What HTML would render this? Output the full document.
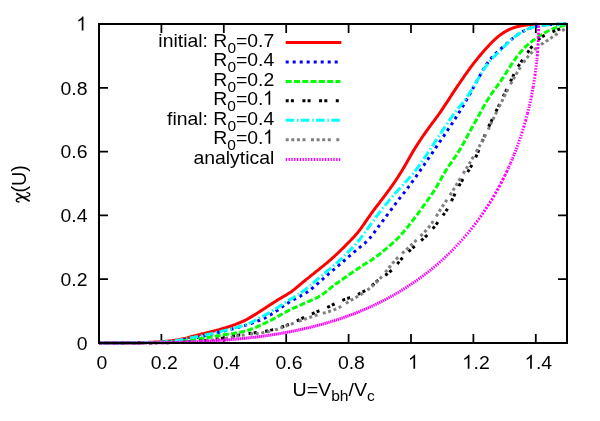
<!DOCTYPE html>
<html><head><meta charset="utf-8"><title>plot</title>
<style>
html,body{margin:0;padding:0;background:#fff;}
body{width:600px;height:421px;position:relative;overflow:hidden;}
svg{will-change:transform;}
svg text{font-family:"Liberation Sans",sans-serif;font-size:18.67px;fill:#000;}
</style></head><body>
<svg width="600" height="421" viewBox="0 0 600 421" style="position:absolute;left:0;top:0">
<rect width="600" height="421" fill="#fff"/>
<path d="M99.0,343.0 v-9 M99.0,24.0 v9 M161.4,343.0 v-9 M161.4,24.0 v9 M223.8,343.0 v-9 M223.8,24.0 v9 M286.2,343.0 v-9 M286.2,24.0 v9 M348.6,343.0 v-9 M348.6,24.0 v9 M411.0,343.0 v-9 M411.0,24.0 v9 M473.4,343.0 v-9 M473.4,24.0 v9 M535.8,343.0 v-9 M535.8,24.0 v9 M99.0,343.0 h9 M567.0,343.0 h-9 M99.0,279.2 h9 M567.0,279.2 h-9 M99.0,215.4 h9 M567.0,215.4 h-9 M99.0,151.6 h9 M567.0,151.6 h-9 M99.0,87.8 h9 M567.0,87.8 h-9 M99.0,24.0 h9 M567.0,24.0 h-9" stroke="#000" stroke-width="1.75" fill="none"/>
<path d="M99.0,343.0 L100.0,343.0 L101.0,343.0 L102.0,343.0 L103.0,343.0 L104.0,343.0 L105.0,343.0 L106.0,343.0 L107.0,343.0 L108.0,343.0 L109.0,343.0 L110.0,343.0 L111.0,343.0 L112.0,343.0 L113.0,342.9 L114.0,342.9 L115.0,342.9 L116.0,342.9 L117.0,342.9 L118.0,342.9 L119.0,342.9 L120.0,342.9 L121.0,342.9 L122.0,342.9 L123.0,342.9 L124.0,342.9 L125.0,342.8 L126.0,342.8 L127.0,342.8 L128.0,342.8 L129.0,342.8 L130.0,342.8 L131.0,342.8 L132.0,342.8 L133.0,342.7 L134.0,342.7 L135.0,342.7 L136.0,342.7 L137.0,342.7 L138.0,342.7 L139.0,342.6 L140.0,342.6 L141.0,342.6 L142.0,342.6 L143.0,342.5 L144.0,342.5 L145.0,342.5 L146.0,342.4 L147.0,342.4 L148.0,342.4 L149.0,342.3 L150.0,342.3 L151.0,342.3 L152.0,342.2 L153.0,342.2 L154.0,342.1 L155.0,342.1 L156.0,342.0 L157.0,342.0 L158.0,341.9 L159.0,341.9 L160.0,341.8 L161.0,341.7 L162.0,341.7 L163.0,341.6 L164.0,341.5 L165.0,341.4 L166.0,341.3 L167.0,341.2 L168.0,341.1 L169.0,341.0 L170.0,340.9 L171.0,340.8 L172.0,340.7 L173.0,340.5 L174.0,340.4 L175.0,340.2 L176.0,340.1 L177.0,339.9 L178.0,339.8 L179.0,339.6 L180.0,339.4 L181.0,339.2 L182.0,339.0 L183.0,338.8 L184.0,338.6 L185.0,338.4 L186.0,338.1 L187.0,337.9 L188.0,337.6 L189.0,337.3 L190.0,337.1 L191.0,336.8 L192.0,336.5 L193.0,336.3 L194.0,336.0 L195.0,335.7 L196.0,335.4 L197.0,335.2 L198.0,334.9 L199.0,334.6 L200.0,334.4 L201.0,334.1 L202.0,333.8 L203.0,333.6 L204.0,333.4 L205.0,333.1 L206.0,332.9 L207.0,332.6 L208.0,332.4 L209.0,332.2 L210.0,331.9 L211.0,331.7 L212.0,331.4 L213.0,331.2 L214.0,331.0 L215.0,330.7 L216.0,330.5 L217.0,330.2 L218.0,329.9 L219.0,329.7 L220.0,329.4 L221.0,329.1 L222.0,328.8 L223.0,328.5 L224.0,328.2 L225.0,327.9 L226.0,327.6 L227.0,327.3 L228.0,327.0 L229.0,326.7 L230.0,326.3 L231.0,326.0 L232.0,325.7 L233.0,325.3 L234.0,324.9 L235.0,324.6 L236.0,324.2 L237.0,323.8 L238.0,323.4 L239.0,323.0 L240.0,322.6 L241.0,322.2 L242.0,321.7 L243.0,321.3 L244.0,320.8 L245.0,320.3 L246.0,319.8 L247.0,319.3 L248.0,318.7 L249.0,318.2 L250.0,317.6 L251.0,317.0 L252.0,316.4 L253.0,315.8 L254.0,315.2 L255.0,314.6 L256.0,314.0 L257.0,313.3 L258.0,312.7 L259.0,312.1 L260.0,311.4 L261.0,310.8 L262.0,310.1 L263.0,309.5 L264.0,308.8 L265.0,308.2 L266.0,307.5 L267.0,306.8 L268.0,306.2 L269.0,305.5 L270.0,304.9 L271.0,304.2 L272.0,303.6 L273.0,303.0 L274.0,302.3 L275.0,301.7 L276.0,301.0 L277.0,300.4 L278.0,299.8 L279.0,299.2 L280.0,298.6 L281.0,298.0 L282.0,297.4 L283.0,296.8 L284.0,296.2 L285.0,295.6 L286.0,295.1 L287.0,294.5 L288.0,293.8 L289.0,293.2 L290.0,292.6 L291.0,291.9 L292.0,291.2 L293.0,290.4 L294.0,289.6 L295.0,288.8 L296.0,288.0 L297.0,287.2 L298.0,286.3 L299.0,285.5 L300.0,284.7 L301.0,283.8 L302.0,283.0 L303.0,282.2 L304.0,281.3 L305.0,280.5 L306.0,279.7 L307.0,278.9 L308.0,278.1 L309.0,277.3 L310.0,276.5 L311.0,275.7 L312.0,274.9 L313.0,274.1 L314.0,273.3 L315.0,272.5 L316.0,271.7 L317.0,270.9 L318.0,270.1 L319.0,269.3 L320.0,268.5 L321.0,267.7 L322.0,266.9 L323.0,266.1 L324.0,265.3 L325.0,264.4 L326.0,263.6 L327.0,262.8 L328.0,261.9 L329.0,261.1 L330.0,260.2 L331.0,259.3 L332.0,258.5 L333.0,257.6 L334.0,256.7 L335.0,255.8 L336.0,254.8 L337.0,253.9 L338.0,253.0 L339.0,252.0 L340.0,251.0 L341.0,250.0 L342.0,249.1 L343.0,248.1 L344.0,247.1 L345.0,246.1 L346.0,245.0 L347.0,244.0 L348.0,243.0 L349.0,242.0 L350.0,241.0 L351.0,240.0 L352.0,238.9 L353.0,237.9 L354.0,236.8 L355.0,235.7 L356.0,234.5 L357.0,233.4 L358.0,232.2 L359.0,230.9 L360.0,229.6 L361.0,228.3 L362.0,226.9 L363.0,225.5 L364.0,224.1 L365.0,222.6 L366.0,221.1 L367.0,219.7 L368.0,218.2 L369.0,216.8 L370.0,215.3 L371.0,213.9 L372.0,212.5 L373.0,211.2 L374.0,209.8 L375.0,208.5 L376.0,207.2 L377.0,205.9 L378.0,204.6 L379.0,203.3 L380.0,202.0 L381.0,200.7 L382.0,199.4 L383.0,198.0 L384.0,196.7 L385.0,195.4 L386.0,194.0 L387.0,192.7 L388.0,191.3 L389.0,190.0 L390.0,188.6 L391.0,187.2 L392.0,185.8 L393.0,184.3 L394.0,182.9 L395.0,181.5 L396.0,180.0 L397.0,178.5 L398.0,177.0 L399.0,175.4 L400.0,173.8 L401.0,172.2 L402.0,170.6 L403.0,168.9 L404.0,167.2 L405.0,165.5 L406.0,163.7 L407.0,162.0 L408.0,160.2 L409.0,158.4 L410.0,156.7 L411.0,154.9 L412.0,153.2 L413.0,151.5 L414.0,149.9 L415.0,148.3 L416.0,146.6 L417.0,145.1 L418.0,143.5 L419.0,142.0 L420.0,140.5 L421.0,139.0 L422.0,137.5 L423.0,136.0 L424.0,134.6 L425.0,133.2 L426.0,131.8 L427.0,130.4 L428.0,129.0 L429.0,127.6 L430.0,126.2 L431.0,124.9 L432.0,123.5 L433.0,122.2 L434.0,120.9 L435.0,119.5 L436.0,118.2 L437.0,116.8 L438.0,115.4 L439.0,114.0 L440.0,112.6 L441.0,111.2 L442.0,109.7 L443.0,108.2 L444.0,106.7 L445.0,105.2 L446.0,103.7 L447.0,102.1 L448.0,100.6 L449.0,99.1 L450.0,97.5 L451.0,96.0 L452.0,94.4 L453.0,92.9 L454.0,91.4 L455.0,89.9 L456.0,88.4 L457.0,86.9 L458.0,85.4 L459.0,84.0 L460.0,82.5 L461.0,81.0 L462.0,79.6 L463.0,78.1 L464.0,76.7 L465.0,75.2 L466.0,73.8 L467.0,72.4 L468.0,71.0 L469.0,69.6 L470.0,68.2 L471.0,66.9 L472.0,65.6 L473.0,64.2 L474.0,62.9 L475.0,61.7 L476.0,60.4 L477.0,59.2 L478.0,57.9 L479.0,56.7 L480.0,55.5 L481.0,54.3 L482.0,53.1 L483.0,52.0 L484.0,50.8 L485.0,49.7 L486.0,48.6 L487.0,47.5 L488.0,46.4 L489.0,45.3 L490.0,44.3 L491.0,43.2 L492.0,42.2 L493.0,41.2 L494.0,40.3 L495.0,39.3 L496.0,38.4 L497.0,37.6 L498.0,36.7 L499.0,35.9 L500.0,35.1 L501.0,34.4 L502.0,33.7 L503.0,33.0 L504.0,32.4 L505.0,31.8 L506.0,31.2 L507.0,30.6 L508.0,30.1 L509.0,29.6 L510.0,29.2 L511.0,28.8 L512.0,28.4 L513.0,28.0 L514.0,27.6 L515.0,27.3 L516.0,27.0 L517.0,26.8 L518.0,26.5 L519.0,26.3 L520.0,26.0 L521.0,25.9 L522.0,25.7 L523.0,25.5 L524.0,25.3 L525.0,25.2 L526.0,25.1 L527.0,24.9 L528.0,24.8 L529.0,24.7 L530.0,24.6 L531.0,24.5 L532.0,24.5 L533.0,24.4 L534.0,24.3 L535.0,24.2 L536.0,24.2 L537.0,24.1" stroke="#ff0000" stroke-width="3" fill="none" stroke-linejoin="round"/>
<path d="M99.0,343.0 L100.0,343.0 L101.0,343.0 L102.0,343.0 L103.0,343.0 L104.0,343.0 L105.0,343.0 L106.0,343.0 L107.0,343.0 L108.0,343.0 L109.0,343.0 L110.0,343.0 L111.0,343.0 L112.0,343.0 L113.0,343.0 L114.0,343.0 L115.0,342.9 L116.0,342.9 L117.0,342.9 L118.0,342.9 L119.0,342.9 L120.0,342.9 L121.0,342.9 L122.0,342.9 L123.0,342.9 L124.0,342.9 L125.0,342.9 L126.0,342.9 L127.0,342.9 L128.0,342.8 L129.0,342.8 L130.0,342.8 L131.0,342.8 L132.0,342.8 L133.0,342.8 L134.0,342.8 L135.0,342.8 L136.0,342.7 L137.0,342.7 L138.0,342.7 L139.0,342.7 L140.0,342.7 L141.0,342.7 L142.0,342.7 L143.0,342.6 L144.0,342.6 L145.0,342.6 L146.0,342.6 L147.0,342.6 L148.0,342.6 L149.0,342.5 L150.0,342.5 L151.0,342.5 L152.0,342.5 L153.0,342.5 L154.0,342.4 L155.0,342.4 L156.0,342.4 L157.0,342.4 L158.0,342.3 L159.0,342.3 L160.0,342.3 L161.0,342.3 L162.0,342.2 L163.0,342.2 L164.0,342.1 L165.0,342.1 L166.0,342.0 L167.0,341.9 L168.0,341.9 L169.0,341.8 L170.0,341.7 L171.0,341.6 L172.0,341.5 L173.0,341.4 L174.0,341.3 L175.0,341.1 L176.0,341.0 L177.0,340.9 L178.0,340.7 L179.0,340.6 L180.0,340.5 L181.0,340.3 L182.0,340.2 L183.0,340.0 L184.0,339.8 L185.0,339.7 L186.0,339.5 L187.0,339.3 L188.0,339.2 L189.0,339.0 L190.0,338.8 L191.0,338.6 L192.0,338.5 L193.0,338.3 L194.0,338.1 L195.0,337.9 L196.0,337.7 L197.0,337.5 L198.0,337.3 L199.0,337.1 L200.0,336.9 L201.0,336.7 L202.0,336.5 L203.0,336.3 L204.0,336.1 L205.0,335.9 L206.0,335.6 L207.0,335.4 L208.0,335.2 L209.0,334.9 L210.0,334.6 L211.0,334.4 L212.0,334.1 L213.0,333.9 L214.0,333.6 L215.0,333.3 L216.0,333.1 L217.0,332.8 L218.0,332.5 L219.0,332.3 L220.0,332.0 L221.0,331.7 L222.0,331.5 L223.0,331.2 L224.0,331.0 L225.0,330.7 L226.0,330.4 L227.0,330.2 L228.0,330.0 L229.0,329.7 L230.0,329.5 L231.0,329.2 L232.0,329.0 L233.0,328.7 L234.0,328.5 L235.0,328.2 L236.0,328.0 L237.0,327.7 L238.0,327.4 L239.0,327.2 L240.0,326.9 L241.0,326.6 L242.0,326.3 L243.0,326.0 L244.0,325.7 L245.0,325.4 L246.0,325.1 L247.0,324.8 L248.0,324.5 L249.0,324.2 L250.0,323.8 L251.0,323.5 L252.0,323.1 L253.0,322.8 L254.0,322.4 L255.0,322.0 L256.0,321.7 L257.0,321.3 L258.0,320.9 L259.0,320.5 L260.0,320.1 L261.0,319.6 L262.0,319.2 L263.0,318.7 L264.0,318.3 L265.0,317.8 L266.0,317.3 L267.0,316.8 L268.0,316.3 L269.0,315.7 L270.0,315.1 L271.0,314.5 L272.0,313.9 L273.0,313.3 L274.0,312.6 L275.0,312.0 L276.0,311.3 L277.0,310.6 L278.0,309.9 L279.0,309.2 L280.0,308.5 L281.0,307.8 L282.0,307.0 L283.0,306.3 L284.0,305.6 L285.0,304.9 L286.0,304.3 L287.0,303.6 L288.0,303.0 L289.0,302.3 L290.0,301.7 L291.0,301.1 L292.0,300.5 L293.0,300.0 L294.0,299.4 L295.0,298.9 L296.0,298.4 L297.0,297.8 L298.0,297.3 L299.0,296.8 L300.0,296.3 L301.0,295.7 L302.0,295.2 L303.0,294.6 L304.0,294.0 L305.0,293.4 L306.0,292.8 L307.0,292.2 L308.0,291.5 L309.0,290.8 L310.0,290.1 L311.0,289.3 L312.0,288.5 L313.0,287.7 L314.0,286.9 L315.0,286.0 L316.0,285.1 L317.0,284.2 L318.0,283.4 L319.0,282.5 L320.0,281.6 L321.0,280.7 L322.0,279.8 L323.0,278.9 L324.0,278.0 L325.0,277.1 L326.0,276.2 L327.0,275.4 L328.0,274.5 L329.0,273.6 L330.0,272.8 L331.0,271.9 L332.0,271.1 L333.0,270.2 L334.0,269.4 L335.0,268.5 L336.0,267.7 L337.0,266.8 L338.0,266.0 L339.0,265.1 L340.0,264.2 L341.0,263.4 L342.0,262.5 L343.0,261.7 L344.0,260.8 L345.0,259.9 L346.0,259.0 L347.0,258.2 L348.0,257.3 L349.0,256.4 L350.0,255.6 L351.0,254.7 L352.0,253.8 L353.0,253.0 L354.0,252.1 L355.0,251.3 L356.0,250.4 L357.0,249.6 L358.0,248.8 L359.0,248.0 L360.0,247.2 L361.0,246.4 L362.0,245.6 L363.0,244.8 L364.0,243.9 L365.0,243.0 L366.0,242.1 L367.0,241.2 L368.0,240.1 L369.0,239.0 L370.0,237.9 L371.0,236.7 L372.0,235.4 L373.0,234.1 L374.0,232.8 L375.0,231.4 L376.0,230.0 L377.0,228.7 L378.0,227.3 L379.0,225.9 L380.0,224.6 L381.0,223.3 L382.0,221.9 L383.0,220.6 L384.0,219.2 L385.0,217.9 L386.0,216.6 L387.0,215.2 L388.0,213.9 L389.0,212.5 L390.0,211.2 L391.0,209.8 L392.0,208.5 L393.0,207.1 L394.0,205.8 L395.0,204.5 L396.0,203.1 L397.0,201.8 L398.0,200.5 L399.0,199.2 L400.0,197.9 L401.0,196.6 L402.0,195.4 L403.0,194.1 L404.0,192.8 L405.0,191.5 L406.0,190.3 L407.0,189.0 L408.0,187.6 L409.0,186.3 L410.0,185.0 L411.0,183.6 L412.0,182.2 L413.0,180.8 L414.0,179.4 L415.0,178.0 L416.0,176.6 L417.0,175.1 L418.0,173.7 L419.0,172.2 L420.0,170.8 L421.0,169.3 L422.0,167.9 L423.0,166.4 L424.0,165.0 L425.0,163.5 L426.0,162.1 L427.0,160.6 L428.0,159.1 L429.0,157.7 L430.0,156.2 L431.0,154.7 L432.0,153.3 L433.0,151.8 L434.0,150.3 L435.0,148.9 L436.0,147.4 L437.0,145.9 L438.0,144.4 L439.0,143.0 L440.0,141.5 L441.0,140.0 L442.0,138.5 L443.0,137.0 L444.0,135.6 L445.0,134.1 L446.0,132.6 L447.0,131.1 L448.0,129.6 L449.0,128.1 L450.0,126.6 L451.0,125.1 L452.0,123.6 L453.0,122.1 L454.0,120.5 L455.0,119.0 L456.0,117.4 L457.0,115.8 L458.0,114.2 L459.0,112.6 L460.0,111.0 L461.0,109.3 L462.0,107.6 L463.0,106.0 L464.0,104.2 L465.0,102.5 L466.0,100.8 L467.0,99.0 L468.0,97.2 L469.0,95.5 L470.0,93.7 L471.0,91.8 L472.0,90.0 L473.0,88.2 L474.0,86.4 L475.0,84.5 L476.0,82.7 L477.0,80.8 L478.0,79.0 L479.0,77.2 L480.0,75.4 L481.0,73.6 L482.0,71.8 L483.0,70.1 L484.0,68.4 L485.0,66.8 L486.0,65.2 L487.0,63.7 L488.0,62.3 L489.0,60.9 L490.0,59.6 L491.0,58.4 L492.0,57.3 L493.0,56.2 L494.0,55.2 L495.0,54.2 L496.0,53.2 L497.0,52.3 L498.0,51.4 L499.0,50.5 L500.0,49.6 L501.0,48.7 L502.0,47.8 L503.0,46.9 L504.0,46.0 L505.0,45.1 L506.0,44.2 L507.0,43.3 L508.0,42.5 L509.0,41.6 L510.0,40.7 L511.0,39.8 L512.0,39.0 L513.0,38.2 L514.0,37.4 L515.0,36.6 L516.0,35.9 L517.0,35.1 L518.0,34.4 L519.0,33.8 L520.0,33.1 L521.0,32.5 L522.0,31.9 L523.0,31.3 L524.0,30.8 L525.0,30.3 L526.0,29.8 L527.0,29.3 L528.0,28.9 L529.0,28.5 L530.0,28.1 L531.0,27.8 L532.0,27.4 L533.0,27.1 L534.0,26.9 L535.0,26.6 L536.0,26.4 L537.0,26.2 L538.0,26.0 L539.0,25.8 L540.0,25.6 L541.0,25.5 L542.0,25.4 L543.0,25.2 L544.0,25.1 L545.0,25.0 L546.0,24.9 L547.0,24.8 L548.0,24.7 L549.0,24.7 L550.0,24.6 L551.0,24.5 L552.0,24.5 L553.0,24.4 L554.0,24.3 L555.0,24.3 L556.0,24.3 L557.0,24.2 L558.0,24.2 L559.0,24.1 L560.0,24.1 L561.0,24.1 L562.0,24.1 L563.0,24.1 L564.0,24.0 L565.0,24.0 L566.0,24.0 L567.0,24.0" stroke="#0000ff" stroke-width="3" fill="none" stroke-dasharray="3 4" stroke-linejoin="round"/>
<path d="M99.0,343.0 L100.0,343.0 L101.0,343.0 L102.0,343.0 L103.0,343.0 L104.0,343.0 L105.0,343.0 L106.0,343.0 L107.0,343.0 L108.0,343.0 L109.0,343.0 L110.0,343.0 L111.0,343.0 L112.0,343.0 L113.0,343.0 L114.0,343.0 L115.0,343.0 L116.0,343.0 L117.0,343.0 L118.0,342.9 L119.0,342.9 L120.0,342.9 L121.0,342.9 L122.0,342.9 L123.0,342.9 L124.0,342.9 L125.0,342.9 L126.0,342.9 L127.0,342.9 L128.0,342.9 L129.0,342.9 L130.0,342.9 L131.0,342.9 L132.0,342.9 L133.0,342.8 L134.0,342.8 L135.0,342.8 L136.0,342.8 L137.0,342.8 L138.0,342.8 L139.0,342.8 L140.0,342.8 L141.0,342.8 L142.0,342.8 L143.0,342.7 L144.0,342.7 L145.0,342.7 L146.0,342.7 L147.0,342.7 L148.0,342.7 L149.0,342.7 L150.0,342.7 L151.0,342.6 L152.0,342.6 L153.0,342.6 L154.0,342.6 L155.0,342.6 L156.0,342.6 L157.0,342.6 L158.0,342.5 L159.0,342.5 L160.0,342.5 L161.0,342.5 L162.0,342.4 L163.0,342.4 L164.0,342.4 L165.0,342.3 L166.0,342.3 L167.0,342.2 L168.0,342.2 L169.0,342.1 L170.0,342.1 L171.0,342.0 L172.0,341.9 L173.0,341.8 L174.0,341.7 L175.0,341.7 L176.0,341.6 L177.0,341.5 L178.0,341.4 L179.0,341.3 L180.0,341.2 L181.0,341.0 L182.0,340.9 L183.0,340.8 L184.0,340.7 L185.0,340.6 L186.0,340.5 L187.0,340.3 L188.0,340.2 L189.0,340.1 L190.0,340.0 L191.0,339.8 L192.0,339.7 L193.0,339.6 L194.0,339.5 L195.0,339.3 L196.0,339.2 L197.0,339.1 L198.0,338.9 L199.0,338.8 L200.0,338.7 L201.0,338.5 L202.0,338.4 L203.0,338.3 L204.0,338.1 L205.0,338.0 L206.0,337.8 L207.0,337.6 L208.0,337.5 L209.0,337.3 L210.0,337.2 L211.0,337.0 L212.0,336.8 L213.0,336.6 L214.0,336.5 L215.0,336.3 L216.0,336.1 L217.0,336.0 L218.0,335.8 L219.0,335.6 L220.0,335.4 L221.0,335.3 L222.0,335.1 L223.0,335.0 L224.0,334.8 L225.0,334.6 L226.0,334.5 L227.0,334.3 L228.0,334.2 L229.0,334.0 L230.0,333.9 L231.0,333.7 L232.0,333.6 L233.0,333.4 L234.0,333.3 L235.0,333.1 L236.0,333.0 L237.0,332.8 L238.0,332.6 L239.0,332.4 L240.0,332.2 L241.0,332.0 L242.0,331.8 L243.0,331.6 L244.0,331.4 L245.0,331.1 L246.0,330.9 L247.0,330.6 L248.0,330.3 L249.0,330.0 L250.0,329.6 L251.0,329.3 L252.0,328.9 L253.0,328.5 L254.0,328.1 L255.0,327.7 L256.0,327.3 L257.0,326.9 L258.0,326.4 L259.0,326.0 L260.0,325.5 L261.0,325.1 L262.0,324.6 L263.0,324.1 L264.0,323.6 L265.0,323.2 L266.0,322.7 L267.0,322.2 L268.0,321.7 L269.0,321.2 L270.0,320.7 L271.0,320.2 L272.0,319.6 L273.0,319.1 L274.0,318.6 L275.0,318.0 L276.0,317.5 L277.0,316.9 L278.0,316.3 L279.0,315.8 L280.0,315.2 L281.0,314.7 L282.0,314.1 L283.0,313.5 L284.0,313.0 L285.0,312.5 L286.0,311.9 L287.0,311.4 L288.0,310.9 L289.0,310.4 L290.0,309.9 L291.0,309.4 L292.0,308.9 L293.0,308.4 L294.0,307.9 L295.0,307.5 L296.0,307.0 L297.0,306.6 L298.0,306.1 L299.0,305.7 L300.0,305.2 L301.0,304.8 L302.0,304.3 L303.0,303.9 L304.0,303.5 L305.0,303.0 L306.0,302.6 L307.0,302.2 L308.0,301.7 L309.0,301.3 L310.0,300.8 L311.0,300.4 L312.0,300.0 L313.0,299.5 L314.0,299.1 L315.0,298.6 L316.0,298.1 L317.0,297.6 L318.0,297.1 L319.0,296.5 L320.0,295.9 L321.0,295.3 L322.0,294.7 L323.0,294.0 L324.0,293.3 L325.0,292.5 L326.0,291.7 L327.0,290.9 L328.0,290.1 L329.0,289.3 L330.0,288.4 L331.0,287.6 L332.0,286.8 L333.0,286.0 L334.0,285.3 L335.0,284.5 L336.0,283.8 L337.0,283.1 L338.0,282.5 L339.0,281.8 L340.0,281.1 L341.0,280.4 L342.0,279.7 L343.0,279.0 L344.0,278.3 L345.0,277.6 L346.0,276.9 L347.0,276.2 L348.0,275.5 L349.0,274.8 L350.0,274.1 L351.0,273.4 L352.0,272.7 L353.0,272.0 L354.0,271.4 L355.0,270.7 L356.0,270.0 L357.0,269.3 L358.0,268.6 L359.0,267.9 L360.0,267.2 L361.0,266.6 L362.0,265.9 L363.0,265.3 L364.0,264.6 L365.0,264.0 L366.0,263.4 L367.0,262.8 L368.0,262.2 L369.0,261.6 L370.0,261.0 L371.0,260.3 L372.0,259.7 L373.0,259.0 L374.0,258.3 L375.0,257.6 L376.0,256.9 L377.0,256.1 L378.0,255.4 L379.0,254.6 L380.0,253.8 L381.0,253.0 L382.0,252.2 L383.0,251.4 L384.0,250.5 L385.0,249.7 L386.0,248.9 L387.0,248.0 L388.0,247.2 L389.0,246.3 L390.0,245.5 L391.0,244.6 L392.0,243.7 L393.0,242.8 L394.0,241.9 L395.0,241.0 L396.0,240.0 L397.0,239.0 L398.0,238.0 L399.0,237.0 L400.0,235.9 L401.0,234.8 L402.0,233.7 L403.0,232.6 L404.0,231.4 L405.0,230.2 L406.0,229.0 L407.0,227.8 L408.0,226.6 L409.0,225.3 L410.0,224.0 L411.0,222.7 L412.0,221.4 L413.0,220.1 L414.0,218.8 L415.0,217.5 L416.0,216.2 L417.0,214.8 L418.0,213.5 L419.0,212.1 L420.0,210.8 L421.0,209.4 L422.0,208.0 L423.0,206.6 L424.0,205.2 L425.0,203.8 L426.0,202.4 L427.0,201.1 L428.0,199.7 L429.0,198.3 L430.0,196.9 L431.0,195.4 L432.0,194.0 L433.0,192.5 L434.0,190.9 L435.0,189.3 L436.0,187.7 L437.0,186.0 L438.0,184.3 L439.0,182.6 L440.0,180.8 L441.0,179.0 L442.0,177.2 L443.0,175.4 L444.0,173.7 L445.0,172.0 L446.0,170.4 L447.0,168.8 L448.0,167.2 L449.0,165.7 L450.0,164.3 L451.0,162.8 L452.0,161.4 L453.0,160.0 L454.0,158.6 L455.0,157.1 L456.0,155.7 L457.0,154.2 L458.0,152.6 L459.0,151.0 L460.0,149.4 L461.0,147.7 L462.0,145.9 L463.0,144.2 L464.0,142.4 L465.0,140.5 L466.0,138.7 L467.0,136.8 L468.0,135.0 L469.0,133.1 L470.0,131.2 L471.0,129.4 L472.0,127.6 L473.0,125.8 L474.0,124.0 L475.0,122.2 L476.0,120.4 L477.0,118.6 L478.0,116.8 L479.0,115.0 L480.0,113.2 L481.0,111.4 L482.0,109.6 L483.0,107.8 L484.0,106.0 L485.0,104.3 L486.0,102.5 L487.0,100.8 L488.0,99.2 L489.0,97.6 L490.0,96.0 L491.0,94.5 L492.0,93.1 L493.0,91.7 L494.0,90.3 L495.0,89.0 L496.0,87.6 L497.0,86.3 L498.0,84.9 L499.0,83.5 L500.0,82.1 L501.0,80.7 L502.0,79.2 L503.0,77.7 L504.0,76.2 L505.0,74.6 L506.0,73.1 L507.0,71.5 L508.0,69.9 L509.0,68.3 L510.0,66.8 L511.0,65.2 L512.0,63.7 L513.0,62.2 L514.0,60.8 L515.0,59.4 L516.0,58.0 L517.0,56.6 L518.0,55.3 L519.0,54.0 L520.0,52.7 L521.0,51.5 L522.0,50.4 L523.0,49.3 L524.0,48.2 L525.0,47.2 L526.0,46.3 L527.0,45.4 L528.0,44.5 L529.0,43.7 L530.0,42.9 L531.0,42.1 L532.0,41.3 L533.0,40.6 L534.0,39.9 L535.0,39.2 L536.0,38.4 L537.0,37.7 L538.0,37.0 L539.0,36.4 L540.0,35.7 L541.0,35.0 L542.0,34.4 L543.0,33.8 L544.0,33.2 L545.0,32.6 L546.0,32.0 L547.0,31.5 L548.0,31.0 L549.0,30.5 L550.0,30.0 L551.0,29.6 L552.0,29.1 L553.0,28.7 L554.0,28.4 L555.0,28.0 L556.0,27.7 L557.0,27.4 L558.0,27.1 L559.0,26.8 L560.0,26.6 L561.0,26.3 L562.0,26.1 L563.0,25.9 L564.0,25.6 L565.0,25.4 L566.0,25.2 L567.0,25.0" stroke="#00ff00" stroke-width="3" fill="none" stroke-dasharray="6 2.3" stroke-linejoin="round"/>
<path d="M99.0,343.0 L100.0,343.0 L101.0,343.0 L102.0,343.0 L103.0,343.0 L104.0,343.0 L105.0,343.0 L106.0,343.0 L107.0,343.0 L108.0,343.0 L109.0,343.0 L110.0,343.0 L111.0,343.0 L112.0,343.0 L113.0,343.0 L114.0,343.0 L115.0,343.0 L116.0,343.0 L117.0,343.0 L118.0,343.0 L119.0,343.0 L120.0,343.0 L121.0,343.0 L122.0,343.0 L123.0,343.0 L124.0,343.0 L125.0,343.0 L126.0,343.0 L127.0,343.0 L128.0,343.0 L129.0,343.0 L130.0,342.9 L131.0,342.9 L132.0,342.9 L133.0,342.9 L134.0,342.9 L135.0,342.9 L136.0,342.9 L137.0,342.9 L138.0,342.9 L139.0,342.9 L140.0,342.9 L141.0,342.9 L142.0,342.9 L143.0,342.9 L144.0,342.9 L145.0,342.9 L146.0,342.9 L147.0,342.9 L148.0,342.9 L149.0,342.9 L150.0,342.9 L151.0,342.9 L152.0,342.9 L153.0,342.8 L154.0,342.8 L155.0,342.8 L156.0,342.8 L157.0,342.8 L158.0,342.8 L159.0,342.8 L160.0,342.8 L161.0,342.8 L162.0,342.8 L163.0,342.8 L164.0,342.7 L165.0,342.7 L166.0,342.7 L167.0,342.7 L168.0,342.7 L169.0,342.6 L170.0,342.6 L171.0,342.6 L172.0,342.5 L173.0,342.5 L174.0,342.5 L175.0,342.4 L176.0,342.4 L177.0,342.4 L178.0,342.3 L179.0,342.3 L180.0,342.2 L181.0,342.2 L182.0,342.1 L183.0,342.1 L184.0,342.0 L185.0,342.0 L186.0,341.9 L187.0,341.8 L188.0,341.8 L189.0,341.7 L190.0,341.7 L191.0,341.6 L192.0,341.5 L193.0,341.5 L194.0,341.4 L195.0,341.3 L196.0,341.3 L197.0,341.2 L198.0,341.1 L199.0,341.0 L200.0,341.0 L201.0,340.9 L202.0,340.8 L203.0,340.7 L204.0,340.6 L205.0,340.5 L206.0,340.4 L207.0,340.3 L208.0,340.2 L209.0,340.1 L210.0,340.0 L211.0,339.9 L212.0,339.7 L213.0,339.6 L214.0,339.5 L215.0,339.3 L216.0,339.2 L217.0,339.1 L218.0,338.9 L219.0,338.8 L220.0,338.6 L221.0,338.5 L222.0,338.3 L223.0,338.2 L224.0,338.0 L225.0,337.8 L226.0,337.7 L227.0,337.5 L228.0,337.3 L229.0,337.1 L230.0,336.9 L231.0,336.7 L232.0,336.5 L233.0,336.3 L234.0,336.1 L235.0,335.9 L236.0,335.7 L237.0,335.5 L238.0,335.3 L239.0,335.1 L240.0,334.9 L241.0,334.8 L242.0,334.6 L243.0,334.4 L244.0,334.2 L245.0,334.1 L246.0,333.9 L247.0,333.8 L248.0,333.6 L249.0,333.5 L250.0,333.4 L251.0,333.2 L252.0,333.1 L253.0,333.0 L254.0,332.8 L255.0,332.7 L256.0,332.6 L257.0,332.5 L258.0,332.4 L259.0,332.2 L260.0,332.1 L261.0,332.0 L262.0,331.8 L263.0,331.7 L264.0,331.5 L265.0,331.3 L266.0,331.2 L267.0,331.0 L268.0,330.8 L269.0,330.6 L270.0,330.4 L271.0,330.1 L272.0,329.9 L273.0,329.6 L274.0,329.4 L275.0,329.1 L276.0,328.8 L277.0,328.5 L278.0,328.2 L279.0,327.9 L280.0,327.6 L281.0,327.2 L282.0,326.9 L283.0,326.5 L284.0,326.2 L285.0,325.8 L286.0,325.4 L287.0,325.1 L288.0,324.7 L289.0,324.3 L290.0,323.9 L291.0,323.5 L292.0,323.0 L293.0,322.6 L294.0,322.2 L295.0,321.7 L296.0,321.2 L297.0,320.8 L298.0,320.3 L299.0,319.8 L300.0,319.4 L301.0,318.9 L302.0,318.4 L303.0,317.9 L304.0,317.5 L305.0,317.0 L306.0,316.5 L307.0,316.1 L308.0,315.6 L309.0,315.1 L310.0,314.7 L311.0,314.2 L312.0,313.8 L313.0,313.4 L314.0,313.0 L315.0,312.5 L316.0,312.1 L317.0,311.7 L318.0,311.3 L319.0,310.9 L320.0,310.5 L321.0,310.1 L322.0,309.7 L323.0,309.3 L324.0,308.9 L325.0,308.5 L326.0,308.0 L327.0,307.6 L328.0,307.1 L329.0,306.7 L330.0,306.2 L331.0,305.7 L332.0,305.2 L333.0,304.7 L334.0,304.2 L335.0,303.7 L336.0,303.2 L337.0,302.8 L338.0,302.3 L339.0,301.8 L340.0,301.4 L341.0,300.9 L342.0,300.5 L343.0,300.1 L344.0,299.7 L345.0,299.3 L346.0,299.0 L347.0,298.6 L348.0,298.2 L349.0,297.9 L350.0,297.5 L351.0,297.2 L352.0,296.8 L353.0,296.4 L354.0,296.0 L355.0,295.6 L356.0,295.2 L357.0,294.8 L358.0,294.3 L359.0,293.9 L360.0,293.4 L361.0,292.9 L362.0,292.4 L363.0,291.8 L364.0,291.2 L365.0,290.6 L366.0,290.0 L367.0,289.3 L368.0,288.6 L369.0,287.9 L370.0,287.1 L371.0,286.3 L372.0,285.5 L373.0,284.6 L374.0,283.8 L375.0,282.9 L376.0,282.1 L377.0,281.2 L378.0,280.4 L379.0,279.6 L380.0,278.9 L381.0,278.1 L382.0,277.4 L383.0,276.8 L384.0,276.1 L385.0,275.5 L386.0,274.8 L387.0,274.1 L388.0,273.4 L389.0,272.6 L390.0,271.7 L391.0,270.8 L392.0,269.9 L393.0,268.9 L394.0,267.8 L395.0,266.7 L396.0,265.5 L397.0,264.3 L398.0,263.1 L399.0,261.9 L400.0,260.7 L401.0,259.5 L402.0,258.3 L403.0,257.2 L404.0,256.1 L405.0,255.0 L406.0,254.0 L407.0,253.0 L408.0,252.1 L409.0,251.2 L410.0,250.3 L411.0,249.4 L412.0,248.5 L413.0,247.7 L414.0,246.8 L415.0,246.0 L416.0,245.1 L417.0,244.3 L418.0,243.4 L419.0,242.6 L420.0,241.7 L421.0,240.8 L422.0,239.9 L423.0,239.0 L424.0,238.1 L425.0,237.1 L426.0,236.2 L427.0,235.2 L428.0,234.1 L429.0,233.0 L430.0,231.9 L431.0,230.8 L432.0,229.6 L433.0,228.4 L434.0,227.2 L435.0,225.9 L436.0,224.7 L437.0,223.4 L438.0,222.0 L439.0,220.7 L440.0,219.4 L441.0,218.1 L442.0,216.7 L443.0,215.4 L444.0,214.0 L445.0,212.6 L446.0,211.1 L447.0,209.5 L448.0,207.8 L449.0,205.9 L450.0,204.0 L451.0,202.1 L452.0,200.0 L453.0,197.9 L454.0,195.8 L455.0,193.7 L456.0,191.6 L457.0,189.6 L458.0,187.7 L459.0,185.8 L460.0,184.0 L461.0,182.3 L462.0,180.6 L463.0,179.0 L464.0,177.5 L465.0,176.0 L466.0,174.5 L467.0,173.0 L468.0,171.5 L469.0,169.9 L470.0,168.3 L471.0,166.6 L472.0,164.9 L473.0,163.0 L474.0,161.0 L475.0,158.9 L476.0,156.7 L477.0,154.4 L478.0,151.9 L479.0,149.5 L480.0,147.0 L481.0,144.5 L482.0,142.0 L483.0,139.6 L484.0,137.2 L485.0,134.8 L486.0,132.6 L487.0,130.3 L488.0,128.1 L489.0,126.0 L490.0,123.9 L491.0,121.8 L492.0,119.7 L493.0,117.6 L494.0,115.5 L495.0,113.5 L496.0,111.4 L497.0,109.4 L498.0,107.3 L499.0,105.3 L500.0,103.2 L501.0,101.1 L502.0,99.1 L503.0,97.0 L504.0,95.0 L505.0,92.9 L506.0,90.9 L507.0,88.8 L508.0,86.7 L509.0,84.6 L510.0,82.5 L511.0,80.4 L512.0,78.3 L513.0,76.3 L514.0,74.2 L515.0,72.3 L516.0,70.4 L517.0,68.6 L518.0,66.8 L519.0,65.2 L520.0,63.6 L521.0,62.1 L522.0,60.6 L523.0,59.2 L524.0,57.8 L525.0,56.3 L526.0,54.9 L527.0,53.5 L528.0,52.1 L529.0,50.6 L530.0,49.2 L531.0,47.8 L532.0,46.5 L533.0,45.2 L534.0,44.0 L535.0,42.9 L536.0,41.8 L537.0,40.8 L538.0,39.9 L539.0,39.0 L540.0,38.2 L541.0,37.5 L542.0,36.8 L543.0,36.2 L544.0,35.6 L545.0,35.1 L546.0,34.6 L547.0,34.1 L548.0,33.7 L549.0,33.2 L550.0,32.8 L551.0,32.4 L552.0,32.0 L553.0,31.6 L554.0,31.2 L555.0,30.8 L556.0,30.4 L557.0,30.0 L558.0,29.7 L559.0,29.3 L560.0,29.0 L561.0,28.6 L562.0,28.2 L563.0,27.9 L564.0,27.5 L565.0,27.2 L566.0,26.9 L567.0,26.5" stroke="#000000" stroke-width="3" fill="none" stroke-dasharray="3 2.2 3 8.5" stroke-linejoin="round"/>
<path d="M99.0,343.0 L100.0,343.0 L101.0,343.0 L102.0,343.0 L103.0,343.0 L104.0,343.0 L105.0,343.0 L106.0,343.0 L107.0,343.0 L108.0,343.0 L109.0,343.0 L110.0,343.0 L111.0,343.0 L112.0,343.0 L113.0,343.0 L114.0,342.9 L115.0,342.9 L116.0,342.9 L117.0,342.9 L118.0,342.9 L119.0,342.9 L120.0,342.9 L121.0,342.9 L122.0,342.9 L123.0,342.9 L124.0,342.9 L125.0,342.9 L126.0,342.8 L127.0,342.8 L128.0,342.8 L129.0,342.8 L130.0,342.8 L131.0,342.8 L132.0,342.8 L133.0,342.8 L134.0,342.7 L135.0,342.7 L136.0,342.7 L137.0,342.7 L138.0,342.7 L139.0,342.7 L140.0,342.6 L141.0,342.6 L142.0,342.6 L143.0,342.6 L144.0,342.6 L145.0,342.6 L146.0,342.5 L147.0,342.5 L148.0,342.5 L149.0,342.5 L150.0,342.5 L151.0,342.4 L152.0,342.4 L153.0,342.4 L154.0,342.4 L155.0,342.3 L156.0,342.3 L157.0,342.3 L158.0,342.3 L159.0,342.2 L160.0,342.2 L161.0,342.1 L162.0,342.1 L163.0,342.0 L164.0,342.0 L165.0,341.9 L166.0,341.8 L167.0,341.7 L168.0,341.7 L169.0,341.6 L170.0,341.4 L171.0,341.3 L172.0,341.2 L173.0,341.1 L174.0,340.9 L175.0,340.8 L176.0,340.6 L177.0,340.5 L178.0,340.3 L179.0,340.1 L180.0,339.9 L181.0,339.8 L182.0,339.6 L183.0,339.4 L184.0,339.2 L185.0,339.0 L186.0,338.8 L187.0,338.6 L188.0,338.4 L189.0,338.2 L190.0,338.0 L191.0,337.8 L192.0,337.6 L193.0,337.4 L194.0,337.2 L195.0,337.0 L196.0,336.8 L197.0,336.6 L198.0,336.4 L199.0,336.2 L200.0,336.0 L201.0,335.8 L202.0,335.6 L203.0,335.4 L204.0,335.2 L205.0,335.0 L206.0,334.8 L207.0,334.6 L208.0,334.3 L209.0,334.1 L210.0,333.9 L211.0,333.7 L212.0,333.5 L213.0,333.2 L214.0,333.0 L215.0,332.8 L216.0,332.5 L217.0,332.3 L218.0,332.1 L219.0,331.8 L220.0,331.6 L221.0,331.4 L222.0,331.1 L223.0,330.9 L224.0,330.6 L225.0,330.4 L226.0,330.2 L227.0,329.9 L228.0,329.7 L229.0,329.4 L230.0,329.2 L231.0,328.9 L232.0,328.7 L233.0,328.4 L234.0,328.2 L235.0,327.9 L236.0,327.7 L237.0,327.4 L238.0,327.1 L239.0,326.8 L240.0,326.5 L241.0,326.2 L242.0,325.9 L243.0,325.5 L244.0,325.2 L245.0,324.8 L246.0,324.5 L247.0,324.1 L248.0,323.7 L249.0,323.3 L250.0,322.9 L251.0,322.4 L252.0,322.0 L253.0,321.5 L254.0,321.0 L255.0,320.5 L256.0,320.0 L257.0,319.5 L258.0,319.0 L259.0,318.4 L260.0,317.9 L261.0,317.4 L262.0,316.8 L263.0,316.2 L264.0,315.7 L265.0,315.1 L266.0,314.6 L267.0,314.0 L268.0,313.4 L269.0,312.8 L270.0,312.2 L271.0,311.6 L272.0,311.0 L273.0,310.4 L274.0,309.8 L275.0,309.2 L276.0,308.5 L277.0,307.9 L278.0,307.2 L279.0,306.6 L280.0,305.9 L281.0,305.3 L282.0,304.7 L283.0,304.0 L284.0,303.4 L285.0,302.7 L286.0,302.1 L287.0,301.5 L288.0,300.8 L289.0,300.2 L290.0,299.6 L291.0,299.0 L292.0,298.4 L293.0,297.8 L294.0,297.2 L295.0,296.6 L296.0,296.0 L297.0,295.4 L298.0,294.7 L299.0,294.1 L300.0,293.4 L301.0,292.8 L302.0,292.1 L303.0,291.3 L304.0,290.6 L305.0,289.8 L306.0,289.1 L307.0,288.2 L308.0,287.4 L309.0,286.6 L310.0,285.7 L311.0,284.9 L312.0,284.0 L313.0,283.2 L314.0,282.3 L315.0,281.4 L316.0,280.5 L317.0,279.7 L318.0,278.8 L319.0,277.9 L320.0,277.1 L321.0,276.2 L322.0,275.4 L323.0,274.5 L324.0,273.7 L325.0,272.9 L326.0,272.0 L327.0,271.2 L328.0,270.4 L329.0,269.6 L330.0,268.8 L331.0,268.0 L332.0,267.1 L333.0,266.3 L334.0,265.5 L335.0,264.6 L336.0,263.7 L337.0,262.8 L338.0,261.9 L339.0,261.0 L340.0,260.0 L341.0,259.0 L342.0,258.1 L343.0,257.1 L344.0,256.1 L345.0,255.1 L346.0,254.1 L347.0,253.1 L348.0,252.1 L349.0,251.1 L350.0,250.1 L351.0,249.1 L352.0,248.1 L353.0,247.1 L354.0,246.0 L355.0,245.0 L356.0,243.9 L357.0,242.7 L358.0,241.5 L359.0,240.3 L360.0,239.1 L361.0,237.8 L362.0,236.4 L363.0,235.1 L364.0,233.7 L365.0,232.3 L366.0,230.9 L367.0,229.5 L368.0,228.1 L369.0,226.7 L370.0,225.3 L371.0,223.9 L372.0,222.5 L373.0,221.1 L374.0,219.8 L375.0,218.4 L376.0,217.0 L377.0,215.7 L378.0,214.4 L379.0,213.1 L380.0,211.8 L381.0,210.5 L382.0,209.2 L383.0,207.9 L384.0,206.6 L385.0,205.4 L386.0,204.2 L387.0,203.0 L388.0,201.8 L389.0,200.6 L390.0,199.4 L391.0,198.2 L392.0,197.1 L393.0,195.9 L394.0,194.8 L395.0,193.6 L396.0,192.5 L397.0,191.4 L398.0,190.3 L399.0,189.2 L400.0,188.1 L401.0,187.0 L402.0,185.9 L403.0,184.8 L404.0,183.7 L405.0,182.6 L406.0,181.5 L407.0,180.4 L408.0,179.3 L409.0,178.2 L410.0,177.1 L411.0,176.0 L412.0,174.8 L413.0,173.6 L414.0,172.4 L415.0,171.2 L416.0,169.9 L417.0,168.6 L418.0,167.2 L419.0,165.9 L420.0,164.5 L421.0,163.1 L422.0,161.6 L423.0,160.2 L424.0,158.7 L425.0,157.2 L426.0,155.7 L427.0,154.2 L428.0,152.7 L429.0,151.2 L430.0,149.6 L431.0,148.1 L432.0,146.6 L433.0,145.1 L434.0,143.5 L435.0,142.0 L436.0,140.5 L437.0,139.0 L438.0,137.4 L439.0,135.9 L440.0,134.4 L441.0,132.9 L442.0,131.3 L443.0,129.8 L444.0,128.3 L445.0,126.8 L446.0,125.3 L447.0,123.8 L448.0,122.3 L449.0,120.9 L450.0,119.4 L451.0,118.0 L452.0,116.6 L453.0,115.2 L454.0,113.8 L455.0,112.5 L456.0,111.2 L457.0,109.9 L458.0,108.7 L459.0,107.4 L460.0,106.2 L461.0,104.9 L462.0,103.7 L463.0,102.4 L464.0,101.1 L465.0,99.8 L466.0,98.4 L467.0,97.0 L468.0,95.5 L469.0,94.0 L470.0,92.4 L471.0,90.8 L472.0,89.1 L473.0,87.4 L474.0,85.7 L475.0,84.0 L476.0,82.3 L477.0,80.6 L478.0,78.9 L479.0,77.2 L480.0,75.5 L481.0,73.9 L482.0,72.2 L483.0,70.7 L484.0,69.1 L485.0,67.7 L486.0,66.2 L487.0,64.9 L488.0,63.6 L489.0,62.3 L490.0,61.1 L491.0,59.9 L492.0,58.8 L493.0,57.7 L494.0,56.7 L495.0,55.7 L496.0,54.7 L497.0,53.7 L498.0,52.7 L499.0,51.7 L500.0,50.7 L501.0,49.8 L502.0,48.8 L503.0,47.8 L504.0,46.8 L505.0,45.8 L506.0,44.8 L507.0,43.8 L508.0,42.8 L509.0,41.8 L510.0,40.9 L511.0,40.0 L512.0,39.1 L513.0,38.2 L514.0,37.4 L515.0,36.6 L516.0,35.9 L517.0,35.1 L518.0,34.4 L519.0,33.7 L520.0,33.1 L521.0,32.5 L522.0,31.9 L523.0,31.3 L524.0,30.8 L525.0,30.3 L526.0,29.8 L527.0,29.3 L528.0,28.9 L529.0,28.5 L530.0,28.1 L531.0,27.8 L532.0,27.4 L533.0,27.1 L534.0,26.9 L535.0,26.6 L536.0,26.4 L537.0,26.2 L538.0,26.0 L539.0,25.8 L540.0,25.6 L541.0,25.5 L542.0,25.4 L543.0,25.2 L544.0,25.1 L545.0,25.0 L546.0,24.9 L547.0,24.8 L548.0,24.7 L549.0,24.7 L550.0,24.6 L551.0,24.5 L552.0,24.5 L553.0,24.4 L554.0,24.3 L555.0,24.3 L556.0,24.3 L557.0,24.2 L558.0,24.2 L559.0,24.1 L560.0,24.1 L561.0,24.1 L562.0,24.1 L563.0,24.1 L564.0,24.0 L565.0,24.0 L566.0,24.0 L567.0,24.0" stroke="#00ffff" stroke-width="3" fill="none" stroke-dasharray="8.5 2.8 1.5 2.4" stroke-linejoin="round"/>
<path d="M99.0,343.0 L100.0,343.0 L101.0,343.0 L102.0,343.0 L103.0,343.0 L104.0,343.0 L105.0,343.0 L106.0,343.0 L107.0,343.0 L108.0,343.0 L109.0,343.0 L110.0,343.0 L111.0,343.0 L112.0,343.0 L113.0,343.0 L114.0,343.0 L115.0,343.0 L116.0,343.0 L117.0,343.0 L118.0,343.0 L119.0,343.0 L120.0,343.0 L121.0,343.0 L122.0,343.0 L123.0,343.0 L124.0,343.0 L125.0,343.0 L126.0,343.0 L127.0,343.0 L128.0,343.0 L129.0,343.0 L130.0,342.9 L131.0,342.9 L132.0,342.9 L133.0,342.9 L134.0,342.9 L135.0,342.9 L136.0,342.9 L137.0,342.9 L138.0,342.9 L139.0,342.9 L140.0,342.9 L141.0,342.9 L142.0,342.9 L143.0,342.9 L144.0,342.9 L145.0,342.9 L146.0,342.9 L147.0,342.9 L148.0,342.9 L149.0,342.9 L150.0,342.9 L151.0,342.9 L152.0,342.9 L153.0,342.8 L154.0,342.8 L155.0,342.8 L156.0,342.8 L157.0,342.8 L158.0,342.8 L159.0,342.8 L160.0,342.8 L161.0,342.8 L162.0,342.8 L163.0,342.8 L164.0,342.8 L165.0,342.7 L166.0,342.7 L167.0,342.7 L168.0,342.7 L169.0,342.7 L170.0,342.6 L171.0,342.6 L172.0,342.6 L173.0,342.5 L174.0,342.5 L175.0,342.5 L176.0,342.4 L177.0,342.4 L178.0,342.4 L179.0,342.3 L180.0,342.3 L181.0,342.2 L182.0,342.2 L183.0,342.1 L184.0,342.1 L185.0,342.0 L186.0,342.0 L187.0,341.9 L188.0,341.9 L189.0,341.8 L190.0,341.8 L191.0,341.7 L192.0,341.7 L193.0,341.6 L194.0,341.6 L195.0,341.5 L196.0,341.4 L197.0,341.4 L198.0,341.3 L199.0,341.2 L200.0,341.2 L201.0,341.1 L202.0,341.0 L203.0,340.9 L204.0,340.9 L205.0,340.8 L206.0,340.7 L207.0,340.6 L208.0,340.5 L209.0,340.4 L210.0,340.3 L211.0,340.2 L212.0,340.1 L213.0,340.0 L214.0,339.9 L215.0,339.7 L216.0,339.6 L217.0,339.5 L218.0,339.4 L219.0,339.2 L220.0,339.1 L221.0,339.0 L222.0,338.8 L223.0,338.7 L224.0,338.5 L225.0,338.4 L226.0,338.2 L227.0,338.0 L228.0,337.9 L229.0,337.7 L230.0,337.5 L231.0,337.3 L232.0,337.1 L233.0,336.9 L234.0,336.8 L235.0,336.6 L236.0,336.4 L237.0,336.2 L238.0,336.0 L239.0,335.8 L240.0,335.6 L241.0,335.5 L242.0,335.3 L243.0,335.1 L244.0,335.0 L245.0,334.8 L246.0,334.7 L247.0,334.5 L248.0,334.4 L249.0,334.3 L250.0,334.2 L251.0,334.0 L252.0,333.9 L253.0,333.8 L254.0,333.7 L255.0,333.6 L256.0,333.5 L257.0,333.4 L258.0,333.3 L259.0,333.1 L260.0,333.0 L261.0,332.9 L262.0,332.8 L263.0,332.6 L264.0,332.5 L265.0,332.3 L266.0,332.1 L267.0,331.9 L268.0,331.7 L269.0,331.5 L270.0,331.3 L271.0,331.0 L272.0,330.8 L273.0,330.5 L274.0,330.2 L275.0,329.9 L276.0,329.6 L277.0,329.3 L278.0,328.9 L279.0,328.6 L280.0,328.2 L281.0,327.8 L282.0,327.5 L283.0,327.1 L284.0,326.7 L285.0,326.4 L286.0,326.0 L287.0,325.6 L288.0,325.3 L289.0,324.9 L290.0,324.5 L291.0,324.1 L292.0,323.8 L293.0,323.4 L294.0,323.0 L295.0,322.7 L296.0,322.3 L297.0,321.9 L298.0,321.6 L299.0,321.2 L300.0,320.8 L301.0,320.5 L302.0,320.1 L303.0,319.7 L304.0,319.4 L305.0,319.0 L306.0,318.7 L307.0,318.3 L308.0,318.0 L309.0,317.6 L310.0,317.3 L311.0,317.0 L312.0,316.6 L313.0,316.3 L314.0,316.0 L315.0,315.6 L316.0,315.3 L317.0,315.0 L318.0,314.7 L319.0,314.4 L320.0,314.1 L321.0,313.8 L322.0,313.5 L323.0,313.2 L324.0,312.9 L325.0,312.7 L326.0,312.4 L327.0,312.1 L328.0,311.8 L329.0,311.5 L330.0,311.2 L331.0,310.9 L332.0,310.6 L333.0,310.2 L334.0,309.8 L335.0,309.4 L336.0,309.0 L337.0,308.5 L338.0,308.0 L339.0,307.5 L340.0,307.0 L341.0,306.4 L342.0,305.8 L343.0,305.2 L344.0,304.6 L345.0,304.0 L346.0,303.3 L347.0,302.7 L348.0,302.1 L349.0,301.5 L350.0,300.9 L351.0,300.3 L352.0,299.7 L353.0,299.1 L354.0,298.5 L355.0,298.0 L356.0,297.4 L357.0,296.8 L358.0,296.2 L359.0,295.6 L360.0,295.0 L361.0,294.4 L362.0,293.8 L363.0,293.1 L364.0,292.5 L365.0,291.8 L366.0,291.1 L367.0,290.3 L368.0,289.6 L369.0,288.8 L370.0,288.0 L371.0,287.2 L372.0,286.3 L373.0,285.5 L374.0,284.6 L375.0,283.6 L376.0,282.7 L377.0,281.7 L378.0,280.7 L379.0,279.7 L380.0,278.6 L381.0,277.5 L382.0,276.4 L383.0,275.2 L384.0,274.0 L385.0,272.8 L386.0,271.5 L387.0,270.3 L388.0,269.0 L389.0,267.8 L390.0,266.5 L391.0,265.3 L392.0,264.0 L393.0,262.8 L394.0,261.7 L395.0,260.5 L396.0,259.4 L397.0,258.4 L398.0,257.3 L399.0,256.4 L400.0,255.4 L401.0,254.4 L402.0,253.5 L403.0,252.6 L404.0,251.7 L405.0,250.8 L406.0,249.9 L407.0,249.0 L408.0,248.1 L409.0,247.2 L410.0,246.3 L411.0,245.4 L412.0,244.4 L413.0,243.5 L414.0,242.5 L415.0,241.5 L416.0,240.5 L417.0,239.5 L418.0,238.5 L419.0,237.6 L420.0,236.6 L421.0,235.6 L422.0,234.6 L423.0,233.6 L424.0,232.5 L425.0,231.5 L426.0,230.4 L427.0,229.3 L428.0,228.2 L429.0,227.0 L430.0,225.7 L431.0,224.4 L432.0,223.0 L433.0,221.5 L434.0,220.0 L435.0,218.4 L436.0,216.8 L437.0,215.2 L438.0,213.6 L439.0,211.9 L440.0,210.3 L441.0,208.7 L442.0,207.2 L443.0,205.7 L444.0,204.2 L445.0,202.7 L446.0,201.2 L447.0,199.8 L448.0,198.3 L449.0,196.8 L450.0,195.2 L451.0,193.6 L452.0,192.0 L453.0,190.4 L454.0,188.8 L455.0,187.1 L456.0,185.5 L457.0,183.8 L458.0,182.2 L459.0,180.5 L460.0,178.8 L461.0,177.2 L462.0,175.6 L463.0,173.9 L464.0,172.3 L465.0,170.7 L466.0,169.1 L467.0,167.4 L468.0,165.8 L469.0,164.1 L470.0,162.4 L471.0,160.7 L472.0,159.0 L473.0,157.3 L474.0,155.5 L475.0,153.8 L476.0,152.1 L477.0,150.4 L478.0,148.6 L479.0,146.9 L480.0,145.1 L481.0,143.3 L482.0,141.5 L483.0,139.7 L484.0,137.8 L485.0,135.8 L486.0,133.9 L487.0,131.9 L488.0,129.8 L489.0,127.8 L490.0,125.7 L491.0,123.6 L492.0,121.5 L493.0,119.4 L494.0,117.3 L495.0,115.3 L496.0,113.2 L497.0,111.1 L498.0,109.1 L499.0,107.0 L500.0,105.0 L501.0,103.0 L502.0,101.0 L503.0,99.0 L504.0,97.0 L505.0,95.0 L506.0,93.1 L507.0,91.1 L508.0,89.1 L509.0,87.2 L510.0,85.3 L511.0,83.4 L512.0,81.5 L513.0,79.7 L514.0,77.9 L515.0,76.1 L516.0,74.4 L517.0,72.7 L518.0,71.0 L519.0,69.4 L520.0,67.8 L521.0,66.3 L522.0,64.7 L523.0,63.3 L524.0,61.8 L525.0,60.4 L526.0,59.1 L527.0,57.8 L528.0,56.6 L529.0,55.4 L530.0,54.2 L531.0,53.1 L532.0,52.1 L533.0,51.1 L534.0,50.1 L535.0,49.2 L536.0,48.4 L537.0,47.5 L538.0,46.8 L539.0,46.0 L540.0,45.3 L541.0,44.6 L542.0,43.9 L543.0,43.3 L544.0,42.6 L545.0,42.0 L546.0,41.3 L547.0,40.7 L548.0,40.0 L549.0,39.3 L550.0,38.7 L551.0,38.0 L552.0,37.3 L553.0,36.6 L554.0,35.9 L555.0,35.3 L556.0,34.6 L557.0,33.9 L558.0,33.2 L559.0,32.6 L560.0,31.9 L561.0,31.3 L562.0,30.7 L563.0,30.2 L564.0,29.7 L565.0,29.2 L566.0,28.7 L567.0,28.3" stroke="#808080" stroke-width="3" fill="none" stroke-dasharray="3 2.6 3 2.6 3 2.6 3 5.5" stroke-linejoin="round"/>
<path d="M99.00,343.00L100.88,343.00M100.88,343.00L102.76,343.00M102.76,343.00L104.64,343.00M104.64,343.00L106.52,343.00M106.52,343.00L108.40,343.00M108.40,343.00L110.28,343.00M110.28,343.00L112.16,343.00M112.16,343.00L114.04,343.00M114.04,343.00L115.92,343.00M115.92,343.00L117.80,342.99M117.80,342.99L119.67,342.99M119.67,342.99L121.55,342.99M121.55,342.99L123.43,342.98M123.43,342.98L125.31,342.98M125.31,342.98L127.19,342.98M127.19,342.98L129.07,342.97M129.07,342.97L130.95,342.96M130.95,342.96L132.83,342.96M132.83,342.96L134.71,342.95M134.71,342.95L136.59,342.94M136.59,342.94L138.47,342.93M138.47,342.93L140.35,342.92M140.35,342.92L142.23,342.90M142.23,342.90L144.11,342.89M144.11,342.89L145.99,342.88M145.99,342.88L147.87,342.86M147.87,342.86L149.75,342.84M149.75,342.84L151.63,342.82M151.63,342.82L153.51,342.80M153.51,342.80L155.39,342.78M155.39,342.78L157.27,342.75M157.27,342.75L159.14,342.73M159.14,342.73L161.02,342.70M161.02,342.70L162.90,342.67M162.90,342.67L164.78,342.63M164.78,342.63L166.66,342.60M166.66,342.60L168.54,342.56M168.54,342.56L170.42,342.52M170.42,342.52L172.30,342.48M172.30,342.48L174.18,342.44M174.18,342.44L176.06,342.39M176.06,342.39L177.94,342.34M177.94,342.34L179.82,342.29M179.82,342.29L181.70,342.24M181.70,342.24L183.58,342.18M183.58,342.18L185.46,342.12M185.46,342.12L187.34,342.06M187.34,342.06L189.22,341.99M189.22,341.99L191.10,341.93M191.10,341.93L192.98,341.85M192.98,341.85L194.86,341.78M194.86,341.78L196.73,341.70M196.73,341.70L198.61,341.62M198.61,341.62L200.49,341.53M200.49,341.53L202.37,341.44M202.37,341.44L204.25,341.35M204.25,341.35L206.13,341.25M206.13,341.25L208.01,341.15M208.01,341.15L209.89,341.05M209.89,341.05L211.77,340.94M211.77,340.94L213.65,340.83M213.65,340.83L215.53,340.71M215.53,340.71L217.41,340.59M217.41,340.59L219.29,340.47M219.29,340.47L221.17,340.34M221.17,340.34L223.05,340.21M223.05,340.21L224.93,340.07M224.93,340.07L226.81,339.92M226.81,339.92L228.69,339.78M228.69,339.78L230.57,339.62M230.57,339.62L232.45,339.47M232.45,339.47L234.33,339.30M234.33,339.30L236.20,339.13M236.20,339.13L238.08,338.96M238.08,338.96L239.96,338.78M239.96,338.78L241.84,338.60M241.84,338.60L243.72,338.41M243.72,338.41L245.60,338.22M245.60,338.22L247.48,338.01M247.48,338.01L249.36,337.81M249.36,337.81L251.24,337.60M251.24,337.60L253.12,337.38M253.12,337.38L255.00,337.15M255.00,337.15L256.88,336.92M256.88,336.92L258.76,336.69M258.76,336.69L260.64,336.44M260.64,336.44L262.52,336.19M262.52,336.19L264.40,335.94M264.40,335.94L266.28,335.67M266.28,335.67L268.16,335.40M268.16,335.40L270.04,335.13M270.04,335.13L271.92,334.84M271.92,334.84L273.80,334.55M273.80,334.55L275.67,334.25M275.67,334.25L277.55,333.95M277.55,333.95L279.43,333.63M279.43,333.63L281.31,333.31M281.31,333.31L283.19,332.98M283.19,332.98L285.07,332.65M285.07,332.65L286.95,332.30M286.95,332.30L288.83,331.95M288.83,331.95L290.71,331.59M290.71,331.59L292.59,331.22M292.59,331.22L294.47,330.84M294.47,330.84L296.35,330.46M296.35,330.46L298.23,330.06M298.23,330.06L300.11,329.66M300.11,329.66L301.99,329.25M301.99,329.25L303.87,328.83M303.87,328.83L305.75,328.40M305.75,328.40L307.63,327.96M307.63,327.96L309.51,327.51M309.51,327.51L311.39,327.05M311.39,327.05L313.27,326.58M313.27,326.58L315.14,326.10M315.14,326.10L317.02,325.62M317.02,325.62L318.90,325.12M318.90,325.12L320.78,324.61M320.78,324.61L322.66,324.09M322.66,324.09L324.54,323.56M324.54,323.56L326.42,323.02M326.42,323.02L328.30,322.47M328.30,322.47L330.18,321.90M330.18,321.90L332.06,321.33M332.06,321.33L333.94,320.74M333.94,320.74L335.82,320.15M335.82,320.15L337.70,319.54M337.70,319.54L339.58,318.92M339.58,318.92L341.46,318.29M341.46,318.29L343.34,317.64M343.34,317.64L345.22,316.98M345.22,316.98L347.10,316.31M347.10,316.31L348.98,315.63M348.98,315.63L350.86,314.93M350.86,314.93L352.73,314.23M352.73,314.23L354.61,313.50M354.61,313.50L356.49,312.77M356.49,312.77L358.37,312.02M358.37,312.02L360.25,311.25M360.25,311.25L362.13,310.47M362.13,310.47L364.01,309.68M364.01,309.68L365.89,308.87M365.89,308.87L367.77,308.05M367.77,308.05L369.65,307.21M369.65,307.21L371.53,306.36M371.53,306.36L373.41,305.49M373.41,305.49L375.29,304.61M375.29,304.61L377.17,303.70M377.17,303.70L379.05,302.79M379.05,302.79L380.93,301.85M380.93,301.85L382.81,300.90M382.81,300.90L384.69,299.93M384.69,299.93L386.57,298.95M386.57,298.95L388.45,297.94M388.45,297.94L390.33,296.92M390.33,296.92L392.20,295.88M392.20,295.88L394.08,294.82M394.08,294.82L395.96,293.74M395.96,293.74L397.84,292.64M397.84,292.64L399.72,291.52M399.72,291.52L401.60,290.38M401.60,290.38L403.48,289.22M403.48,289.22L405.36,288.04M405.36,288.04L407.24,286.84M407.24,286.84L409.12,285.62M409.12,285.62L411.00,284.37M411.00,284.37L412.88,283.10M412.88,283.10L414.76,281.81M414.76,281.81L416.64,280.49M416.64,280.49L418.52,279.15M418.52,279.15L420.40,277.79M420.40,277.79L422.28,276.40M422.28,276.40L424.16,274.99M424.16,274.99L426.04,273.54M426.04,273.54L427.92,272.07M427.92,272.07L429.80,270.58M429.80,270.58L431.67,269.05M431.67,269.05L433.55,267.50M433.55,267.50L435.43,265.92M435.43,265.92L437.31,264.31M437.31,264.31L439.19,262.66M439.19,262.66L441.07,260.99M441.07,260.99L442.95,259.28M442.95,259.28L444.83,257.54M444.83,257.54L446.71,255.76M446.71,255.76L448.59,253.95M448.59,253.95L450.47,252.10M450.47,252.10L452.35,250.22M452.35,250.22L454.23,248.30M454.23,248.30L456.11,246.34M456.11,246.34L457.99,244.33M457.99,244.33L459.87,242.29M459.87,242.29L461.75,240.20M461.75,240.20L463.63,238.07M463.63,238.07L465.51,235.89M465.51,235.89L467.39,233.67M467.39,233.67L469.27,231.39M469.27,231.39L471.14,229.06M471.14,229.06L473.02,226.68M473.02,226.68L474.90,224.25M474.90,224.25L476.78,221.76M476.78,221.76L478.66,219.20M478.66,219.20L480.54,216.59M480.54,216.59L482.42,213.91M482.42,213.91L484.30,211.16M484.30,211.16L486.18,208.34M486.18,208.34L488.06,205.45M488.06,205.45L489.94,202.48M489.94,202.48L491.82,199.42M491.82,199.42L493.70,196.28M493.70,196.28L495.58,193.04M495.58,193.04L497.46,189.71M497.46,189.71L499.34,186.27M499.34,186.27L501.22,182.72M501.22,182.72L503.10,179.06M503.10,179.06L504.98,175.26M504.98,175.26L506.86,171.33M506.86,171.33L508.73,167.24M508.73,167.24L510.61,163.00M510.61,163.00L512.49,158.57M512.49,158.57L514.37,153.95M514.37,153.95L516.25,149.11M516.25,149.11L518.13,144.02M518.13,144.02L520.01,138.65M520.01,138.65L521.89,132.96M521.89,132.96L523.77,126.90M523.77,126.90L525.65,120.39M525.65,120.39L527.53,113.33M527.53,113.33L529.41,105.60M529.41,105.60L531.29,96.96M531.29,96.96L533.17,87.04M533.17,87.04L535.05,75.12M535.05,75.12L536.93,59.21M536.93,59.21L537.25,55.62M537.25,55.62L537.54,52.03M537.54,52.03L537.80,48.43M537.80,48.43L538.02,44.84M538.02,44.84L538.21,41.24M538.21,41.24L538.36,37.64M538.36,37.64L538.47,34.02M538.47,34.02L538.55,30.41M538.55,30.41L538.60,26.79M538.60,26.79L538.61,24.00" stroke="#ff00ff" stroke-width="3" fill="none" stroke-dasharray="1.4 1.4"/>
<path d="M285.7,42.5 H341.3" stroke="#ff0000" stroke-width="3" fill="none"/>
<path d="M285.7,62 H340.5" stroke="#0000ff" stroke-width="3" fill="none" stroke-dasharray="3 4"/>
<path d="M285.7,81.5 H340.5" stroke="#00ff00" stroke-width="3" fill="none" stroke-dasharray="6 2.3"/>
<path d="M285.7,100.8 H340.5" stroke="#000000" stroke-width="3" fill="none" stroke-dasharray="3 2.2 3 8.5"/>
<path d="M285.7,120.3 H340.5" stroke="#00ffff" stroke-width="3" fill="none" stroke-dasharray="8.5 2.8 1.5 2.4"/>
<path d="M285.7,139.7 H340.5" stroke="#808080" stroke-width="3" fill="none" stroke-dasharray="3 2.6 3 2.6 3 2.6 3 5.5"/>
<path d="M285.7,159.4 H340.5" stroke="#ff00ff" stroke-width="3" fill="none" stroke-dasharray="1.4 1.4"/>
<rect x="99.0" y="24.0" width="468.0" height="319.0" fill="none" stroke="#000" stroke-width="2"/>
<text transform="translate(274.3,46.7) scale(1.04,1)" text-anchor="end">initial: R<tspan dy="6.2" font-size="14.9">0</tspan><tspan dy="-6.2">=0.7</tspan></text>
<text transform="translate(274.3,66.2) scale(1.04,1)" text-anchor="end">R<tspan dy="6.2" font-size="14.9">0</tspan><tspan dy="-6.2">=0.4</tspan></text>
<text transform="translate(274.3,85.7) scale(1.04,1)" text-anchor="end">R<tspan dy="6.2" font-size="14.9">0</tspan><tspan dy="-6.2">=0.2</tspan></text>
<text transform="translate(274.3,105.0) scale(1.04,1)" text-anchor="end">R<tspan dy="6.2" font-size="14.9">0</tspan><tspan dy="-6.2">=0.<tspan visibility="hidden">1</tspan></tspan></text>
<path d="M763 0H583V1147Q518 1085 412.5 1023Q307 961 223 930V1104Q374 1175 487 1276Q600 1377 647 1472H763Z" transform="translate(263.00,104.80) scale(0.009481,-0.009572)" fill="#000"/>
<text transform="translate(274.3,124.5) scale(1.04,1)" text-anchor="end">final: R<tspan dy="6.2" font-size="14.9">0</tspan><tspan dy="-6.2">=0.4</tspan></text>
<text transform="translate(274.3,143.9) scale(1.04,1)" text-anchor="end">R<tspan dy="6.2" font-size="14.9">0</tspan><tspan dy="-6.2">=0.<tspan visibility="hidden">1</tspan></tspan></text>
<path d="M763 0H583V1147Q518 1085 412.5 1023Q307 961 223 930V1104Q374 1175 487 1276Q600 1377 647 1472H763Z" transform="translate(263.00,143.70) scale(0.009481,-0.009572)" fill="#000"/>
<text transform="translate(274.3,163.6) scale(1.04,1)" text-anchor="end">analytical</text>
<text transform="translate(101.8,369) scale(1.04,1)" text-anchor="middle">0</text>
<text transform="translate(164.2,369) scale(1.04,1)" text-anchor="middle">0.2</text>
<text transform="translate(226.6,369) scale(1.04,1)" text-anchor="middle">0.4</text>
<text transform="translate(289.0,369) scale(1.04,1)" text-anchor="middle">0.6</text>
<text transform="translate(351.4,369) scale(1.04,1)" text-anchor="middle">0.8</text>
<path d="M763 0H583V1147Q518 1085 412.5 1023Q307 961 223 930V1104Q374 1175 487 1276Q600 1377 647 1472H763Z" transform="translate(407.90,368.80) scale(0.009481,-0.009572)" fill="#000"/>
<text transform="translate(413.8,369) scale(1.04,1)" text-anchor="middle"><tspan visibility="hidden">1</tspan></text>
<path d="M763 0H583V1147Q518 1085 412.5 1023Q307 961 223 930V1104Q374 1175 487 1276Q600 1377 647 1472H763Z" transform="translate(462.21,368.80) scale(0.009481,-0.009572)" fill="#000"/>
<text transform="translate(476.2,369) scale(1.04,1)" text-anchor="middle"><tspan visibility="hidden">1</tspan>.2</text>
<path d="M763 0H583V1147Q518 1085 412.5 1023Q307 961 223 930V1104Q374 1175 487 1276Q600 1377 647 1472H763Z" transform="translate(524.61,368.80) scale(0.009481,-0.009572)" fill="#000"/>
<text transform="translate(538.6,369) scale(1.04,1)" text-anchor="middle"><tspan visibility="hidden">1</tspan>.4</text>
<text transform="translate(87.5,349.7) scale(1.04,1)" text-anchor="end">0</text>
<text transform="translate(87.5,285.9) scale(1.04,1)" text-anchor="end">0.2</text>
<text transform="translate(87.5,222.1) scale(1.04,1)" text-anchor="end">0.4</text>
<text transform="translate(87.5,158.3) scale(1.04,1)" text-anchor="end">0.6</text>
<text transform="translate(87.5,94.5) scale(1.04,1)" text-anchor="end">0.8</text>
<path d="M763 0H583V1147Q518 1085 412.5 1023Q307 961 223 930V1104Q374 1175 487 1276Q600 1377 647 1472H763Z" transform="translate(76.20,30.50) scale(0.009481,-0.009572)" fill="#000"/>
<text transform="translate(87.5,30.7) scale(1.04,1)" text-anchor="end"><tspan visibility="hidden">1</tspan></text>
<text transform="translate(333.7,395.5) scale(1.05,1)" text-anchor="middle">U=V<tspan dy="5.9" font-size="14.9">bh</tspan><tspan dy="-5.9">/V</tspan><tspan dy="5.9" font-size="14.9">c</tspan></text>
<text transform="translate(25.9,184.0) rotate(-90) scale(1.06,1.11)" text-anchor="middle"><tspan visibility="hidden">χ</tspan>(U)</text>
<path d="M16.3,193.3 L29.7,201.2" stroke="#000" stroke-width="1.8" fill="none"/>
<path d="M27,192.6 C29.2,192.8 30.2,194 29.6,195.3 C29,196.6 26,196.9 23,197.3 C20,197.7 17,198.3 16.4,199.7 C15.9,201 17.2,201.9 18.8,202" stroke="#000" stroke-width="1.45" fill="none" stroke-linecap="round"/>
</svg>
</body></html>
